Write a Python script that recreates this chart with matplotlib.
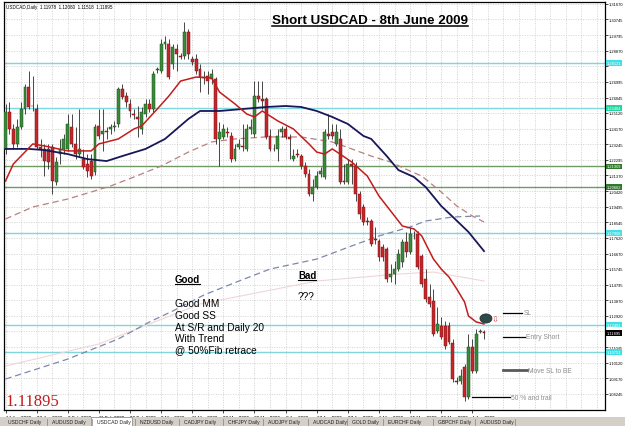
import matplotlib
matplotlib.use("Agg")
import matplotlib.pyplot as plt
from matplotlib.patches import Rectangle, Ellipse
from matplotlib.lines import Line2D
import matplotlib.transforms as mtransforms

plt.rcParams['font.family'] = ['Liberation Sans', 'DejaVu Sans']

# ---------------- data (USDCAD daily, 14 Jan 2009 - 8 Jun 2009) ----------------
opens = [1.2296, 1.2518, 1.2416, 1.2326, 1.2428, 1.2536, 1.2668, 1.2554, 1.2536, 1.2308,
         1.2296, 1.2296, 1.2308, 1.2097, 1.2265, 1.2296, 1.2296, 1.2428, 1.2326, 1.2265,
         1.2235, 1.2205, 1.2223, 1.2157, 1.2434, 1.2386, 1.2404, 1.2416, 1.2428, 1.2446,
         1.2656, 1.2614, 1.2566, 1.2506, 1.2488, 1.2416, 1.2506, 1.2566, 1.2536, 1.2770,
         1.2764, 1.2927, 1.2927, 1.2806, 1.2897, 1.2854, 1.2854, 1.2999, 1.2836, 1.2836,
         1.2776, 1.2728, 1.2734, 1.2716, 1.2716, 1.2356, 1.2368, 1.2398, 1.2374, 1.2235,
         1.2308, 1.2314, 1.2296, 1.2416, 1.2386, 1.2614, 1.2596, 1.2596, 1.2374, 1.2296,
         1.2296, 1.2398, 1.2416, 1.2368, 1.2235, 1.2265, 1.2253, 1.2193, 1.2145, 1.2025,
         1.2067, 1.2145, 1.2127, 1.2386, 1.2398, 1.2326, 1.2356, 1.2103, 1.2097, 1.2205,
         1.2193, 1.2025, 1.1947, 1.1863, 1.1863, 1.1755, 1.1743, 1.1707, 1.1695, 1.1526,
         1.1544, 1.1574, 1.1616, 1.1737, 1.1677, 1.1773, 1.1785, 1.1652, 1.1514, 1.1406,
         1.1382, 1.1202, 1.1232, 1.1232, 1.1232, 1.1130, 1.0901, 1.0901, 1.0985, 1.0805,
         1.1106, 1.0961, 1.1196, 1.11978]
highs = [1.2566, 1.2578, 1.2446, 1.2476, 1.2578, 1.2686, 1.2764, 1.2734, 1.2566, 1.2356,
         1.2326, 1.2326, 1.2326, 1.2247, 1.2356, 1.2386, 1.2506, 1.2506, 1.2428, 1.2536,
         1.2296, 1.2265, 1.2265, 1.2446, 1.2536, 1.2536, 1.2428, 1.2446, 1.2464, 1.2668,
         1.2686, 1.2638, 1.2596, 1.2536, 1.2554, 1.2548, 1.2596, 1.2596, 1.2764, 1.2788,
         1.2957, 1.2975, 1.2957, 1.2927, 1.2927, 1.2872, 1.3059, 1.3017, 1.2854, 1.2866,
         1.2806, 1.2764, 1.2764, 1.2776, 1.2728, 1.2458, 1.2446, 1.2428, 1.2398, 1.2326,
         1.2356, 1.2446, 1.2446, 1.2476, 1.2704, 1.2704, 1.2704, 1.2608, 1.2416, 1.2326,
         1.2416, 1.2434, 1.2434, 1.2386, 1.2296, 1.2296, 1.2265, 1.2217, 1.2175, 1.2115,
         1.2163, 1.2187, 1.2416, 1.2506, 1.2446, 1.2446, 1.2416, 1.2205, 1.2235, 1.2235,
         1.2217, 1.2043, 1.1965, 1.1887, 1.1875, 1.1827, 1.1755, 1.1725, 1.1707, 1.1604,
         1.1622, 1.1695, 1.1755, 1.1797, 1.1827, 1.1803, 1.1803, 1.1665, 1.1574, 1.1484,
         1.1454, 1.1346, 1.1286, 1.1262, 1.1256, 1.1154, 1.0925, 1.0973, 1.1003, 1.1184,
         1.1154, 1.1214, 1.1214, 1.12080]
lows = [1.2265, 1.2386, 1.2296, 1.2308, 1.2416, 1.2506, 1.2536, 1.2524, 1.2296, 1.2247,
        1.2133, 1.2175, 1.2025, 1.2079, 1.2205, 1.2265, 1.2284, 1.2308, 1.2235, 1.2247,
        1.2175, 1.2127, 1.2115, 1.2139, 1.2356, 1.2284, 1.2356, 1.2386, 1.2404, 1.2428,
        1.2596, 1.2548, 1.2488, 1.2476, 1.2368, 1.2386, 1.2488, 1.2518, 1.2518, 1.2752,
        1.2752, 1.2897, 1.2716, 1.2776, 1.2764, 1.2836, 1.2836, 1.2836, 1.2800, 1.2746,
        1.2638, 1.2686, 1.2626, 1.2686, 1.2326, 1.2193, 1.2356, 1.2368, 1.2217, 1.2223,
        1.2296, 1.2284, 1.2284, 1.2386, 1.2368, 1.2578, 1.2536, 1.2356, 1.2284, 1.2284,
        1.2223, 1.2368, 1.2356, 1.2235, 1.2223, 1.2247, 1.2175, 1.2127, 1.2013, 1.1983,
        1.2055, 1.2127, 1.2115, 1.2356, 1.2356, 1.2314, 1.2085, 1.2085, 1.2085, 1.2085,
        1.1983, 1.1875, 1.1839, 1.1839, 1.1713, 1.1725, 1.1622, 1.1622, 1.1496, 1.1496,
        1.1484, 1.1562, 1.1586, 1.1646, 1.1665, 1.1755, 1.1574, 1.1466, 1.1376, 1.1346,
        1.1172, 1.1190, 1.1154, 1.1094, 1.1124, 1.0895, 1.0883, 1.0883, 1.0781, 1.0793,
        1.0949, 1.0949, 1.1190, 1.11518]
closes = [1.2518, 1.2416, 1.2326, 1.2428, 1.2536, 1.2668, 1.2548, 1.2551, 1.2308, 1.2296,
          1.2223, 1.2217, 1.2103, 1.2217, 1.2296, 1.2356, 1.2446, 1.2326, 1.2265, 1.2296,
          1.2187, 1.2163, 1.2133, 1.2428, 1.2374, 1.2404, 1.2398, 1.2428, 1.2434, 1.2656,
          1.2608, 1.2578, 1.2524, 1.2500, 1.2476, 1.2518, 1.2566, 1.2536, 1.2746, 1.2776,
          1.2927, 1.2939, 1.2728, 1.2909, 1.2866, 1.2851, 1.2999, 1.2866, 1.2818, 1.2764,
          1.2728, 1.2725, 1.2704, 1.2746, 1.2356, 1.2398, 1.2416, 1.2392, 1.2235, 1.2296,
          1.2326, 1.2308, 1.2416, 1.2428, 1.2614, 1.2596, 1.2584, 1.2368, 1.2296, 1.2293,
          1.2374, 1.2416, 1.2368, 1.2356, 1.2253, 1.2262, 1.2193, 1.2145, 1.2025, 1.2067,
          1.2133, 1.2163, 1.2398, 1.2374, 1.2374, 1.2398, 1.2097, 1.2100, 1.2205, 1.2193,
          1.2025, 1.1905, 1.1857, 1.1857, 1.1725, 1.1749, 1.1646, 1.1646, 1.1514, 1.1544,
          1.1574, 1.1665, 1.1737, 1.1677, 1.1785, 1.1770, 1.1586, 1.1484, 1.1394, 1.1364,
          1.1184, 1.1244, 1.1166, 1.1112, 1.1136, 1.0913, 1.0898, 1.0931, 1.0805, 1.1106,
          1.0961, 1.1184, 1.1202, 1.11895]

# moving averages (bar index, value)
ma_red_idx = [0, 2, 7, 10, 16, 22, 24, 29, 33, 35, 39, 42, 45, 49, 53, 55, 59, 62, 64, 66, 70,
              74, 78, 80, 82, 84, 86, 89, 93, 96, 100, 102, 105, 107, 110, 112, 114, 116, 118,
              119, 121, 123]
ma_red = [1.2103, 1.2205, 1.2326, 1.2314, 1.2284, 1.2284, 1.2326, 1.2356, 1.2416, 1.2434,
          1.2536, 1.2614, 1.2704, 1.2728, 1.2722, 1.2638, 1.2566, 1.2506, 1.2488, 1.2524,
          1.2464, 1.2416, 1.2326, 1.2277, 1.2265, 1.2296, 1.2265, 1.2217, 1.2133, 1.2013,
          1.1893, 1.1833, 1.1815, 1.1773, 1.1634, 1.1574, 1.1526, 1.1454, 1.1376, 1.1292,
          1.1256, 1.1244]
ma_navy_idx = [0, 6, 10, 16, 21, 26, 30, 36, 41, 47, 50, 55, 61, 67, 72, 76, 80, 84, 88, 92,
               94, 98, 101, 105, 108, 112, 115, 119, 123]
ma_navy = [1.2296, 1.2296, 1.2289, 1.2265, 1.2235, 1.2223, 1.2253, 1.2296, 1.2356, 1.2476,
           1.2524, 1.2524, 1.2536, 1.2548, 1.2554, 1.2548, 1.2524, 1.2488, 1.2446, 1.2374,
           1.2356, 1.2253, 1.2169, 1.2127, 1.2067, 1.1953, 1.1887, 1.1797, 1.1682]
ma_brown_idx = [0, 7, 16, 22, 27, 33, 40, 47, 53, 59, 67, 76, 84, 89, 94, 99, 104, 107, 112,
                116, 120, 123]
ma_brown = [1.1875, 1.1947, 1.1995, 1.2037, 1.2073, 1.2127, 1.2193, 1.2277, 1.2338, 1.2356,
            1.2368, 1.2368, 1.2338, 1.2296, 1.2253, 1.2217, 1.2163, 1.2133, 1.2037, 1.1953,
            1.1893, 1.1857]
ma_blue_idx = [0, 16, 29, 37, 43, 51, 60, 68, 80, 89, 96, 104, 108, 115, 122]
ma_blue = [1.0913, 1.1033, 1.1154, 1.1256, 1.1322, 1.1418, 1.1502, 1.1574, 1.1634, 1.1713,
           1.1773, 1.1827, 1.1863, 1.1887, 1.1893]
ma_faint_idx = [0, 24, 50, 80, 101, 110, 123]
ma_faint = [1.0991, 1.1124, 1.1364, 1.1502, 1.1544, 1.1556, 1.1502]

# horizontal support / resistance lines
hline_prices = [1.28121, 1.25404, 1.21909, 1.20662, 1.17908, 1.12401, 1.10751]
hline_kinds = ['cyan', 'mint', 'green', 'green', 'cyan', 'cyan', 'cyan']
current_price = 1.11895

price_ticks = [1.31670, 1.30745, 1.29795, 1.28870, 1.27920, 1.26995, 1.26045, 1.25120,
               1.24170, 1.23245, 1.22295, 1.21370, 1.20420, 1.19495, 1.18545, 1.17620,
               1.16670, 1.15745, 1.14795, 1.13870, 1.12920, 1.11995, 1.11045, 1.10120,
               1.09170, 1.08245]
date_labels = ["14 Jan 2009", "23 Jan 2009", "2 Feb 2009", "11 Feb 2009", "20 Feb 2009",
               "2 Mar 2009", "11 Mar 2009", "20 Mar 2009", "30 Mar 2009", "8 Apr 2009",
               "17 Apr 2009", "27 Apr 2009", "6 May 2009", "15 May 2009", "26 May 2009",
               "4 Jun 2009"]
tab_names = ["USDCHF Daily", "AUDUSD Daily", "USDCAD Daily", "NZDUSD Daily", "CADJPY Daily",
             "CHFJPY Daily", "AUDJPY Daily", "AUDCAD Daily", "GOLD Daily", "EURCHF Daily",
             "GBPCHF Daily", "AUDUSD Daily"]

# ---------------- figure ----------------
W, H = 625, 427
fig = plt.figure(figsize=(W / 100, H / 100), dpi=100)
fig.patch.set_facecolor('white')


def fx(x):
    return x / W


def fy(y):
    return 1 - y / H


ax = fig.add_axes([fx(4), fy(411), (605 - 4) / W, (411 - 3) / H])
ax.set_facecolor('white')
ax.set_xlim(-0.39, 154.1)
ax.set_ylim(1.07269, 1.31790)

# grid
grid_kw = dict(color='#c4c4c4', lw=0.5, linestyle=(0, (1.5, 2)), zorder=0)
for k in range(0, 156, 4):
    ax.axvline(k, **grid_kw)
for p in price_ticks:
    ax.axhline(p, **grid_kw)

# horizontal lines
line_cols = {'cyan': '#7fd6dc', 'mint': '#7fd6dc', 'green': '#6f9a63'}
lab_cols = {'cyan': '#3fe0e6', 'mint': '#22d8a0', 'green': '#2f7a2a'}
for p, k in zip(hline_prices, hline_kinds):
    ax.axhline(p, color=line_cols[k], lw=1.0, zorder=1.5)

# moving averages
ax.plot(ma_faint_idx, ma_faint, color='#efd6d6', lw=0.8, zorder=2)
ax.plot(ma_blue_idx, ma_blue, color='#7c88ad', lw=0.9, linestyle=(0, (5, 3)), zorder=2)
ax.plot(ma_brown_idx, ma_brown, color='#b98080', lw=0.9, linestyle=(0, (5, 3)), zorder=2)

# candles
n = len(closes)
idx = list(range(n))
ax.vlines(idx, lows, highs, color='#2a2a2a', lw=0.6, zorder=3)
bottoms = [min(o, c) for o, c in zip(opens, closes)]
heights = [max(abs(c - o), 0.0003) for o, c in zip(opens, closes)]
fcols = ['#3a8a3a' if c >= o else '#c4262b' for o, c in zip(opens, closes)]
ecols = ['#1d4d1d' if c >= o else '#7a1212' for o, c in zip(opens, closes)]
ax.bar(idx, heights, bottom=bottoms, width=0.74, color=fcols, edgecolor=ecols,
       linewidth=0.35, zorder=4)

ax.plot(ma_navy_idx, ma_navy, color='#17175a', lw=1.3, zorder=5)
ax.plot(ma_red_idx, ma_red, color='#c21d1d', lw=1.1, zorder=5)

# axes styling
for s in ax.spines.values():
    s.set_color('black')
    s.set_linewidth(0.9)
ax.yaxis.tick_right()
ax.set_yticks(price_ticks)
highlighted = hline_prices + [current_price]
ytick_text = []
for p in price_ticks:
    hidden = any(abs(p - q) < 0.0021 for q in highlighted)
    ytick_text.append('' if hidden else f"{p:.5f}")
ax.set_yticklabels(ytick_text)
ax.tick_params(axis='y', labelsize=2.9, length=2, width=0.5, pad=1, colors='black')
ax.set_xticks(list(range(0, 8 * len(date_labels), 8)))
ax.set_xticklabels(date_labels, ha='left')
ax.tick_params(axis='x', labelsize=3.3, length=2, width=0.5, pad=1.5, colors='black')

# highlighted price labels
trans_lab = mtransforms.blended_transform_factory(ax.transAxes, ax.transData)
for p, k in zip(hline_prices, hline_kinds):
    ax.text(1.003, p, f"{p:.5f}", transform=trans_lab, ha='left', va='center', fontsize=2.9,
            color='white', clip_on=False, zorder=10,
            bbox=dict(boxstyle='square,pad=0.2', fc=lab_cols[k], ec='none'))
ax.text(1.003, current_price, f"{current_price:.5f}", transform=trans_lab, ha='left',
        va='center', fontsize=2.9, color='white', clip_on=False, zorder=11,
        bbox=dict(boxstyle='square,pad=0.2', fc='black', ec='none'))

# trade plan annotations (data coordinates)
ax.add_patch(Ellipse((123.5, 1.1277), 3.1, 0.0055, fc='#2f4848', ec='#1a2a2a', lw=0.5, zorder=8))
ax.text(125.8, 1.1275, "\u21e9", color='#d24a4a', fontsize=6, ha='center', va='center',
        family=['DejaVu Sans'], zorder=8)
ax.plot([127.9, 132.8], [1.1310, 1.1310], color='black', lw=0.9, zorder=8)
ax.text(133.1, 1.1310, "SL", color='#8c8c8c', fontsize=4.8, va='center', zorder=8)
ax.plot([127.9, 133.5], [1.1166, 1.1166], color='black', lw=0.9, zorder=8)
ax.text(133.8, 1.1166, "Entry Short", color='#8c8c8c', fontsize=4.8, va='center', zorder=8)
ax.plot([127.9, 134.1], [1.0967, 1.0967], color='#5a5a5a', lw=2.0, zorder=8)
ax.text(134.4, 1.0967, "Move SL to BE", color='#8c8c8c', fontsize=4.8, va='center', zorder=8)
ax.plot([119.9, 129.7], [1.0805, 1.0805], color='black', lw=0.9, zorder=8)
ax.text(130.0, 1.0805, "50 % and trail", color='#8c8c8c', fontsize=4.8, va='center', zorder=8)

# header and text annotations (figure positions)
fig.text(fx(6), fy(8.5), "USDCAD,Daily  1.11978  1.12080  1.11518  1.11895", fontsize=3.3,
         va='baseline', color='black')
title = fig.text(fx(272), fy(24), "Short USDCAD - 8th June 2009", fontsize=9.6,
                 fontweight='bold', va='baseline', color='black')
good = fig.text(fx(175), fy(283), "Good", fontsize=7, fontweight='bold', va='baseline')
bad = fig.text(fx(298), fy(279), "Bad", fontsize=7, fontweight='bold', va='baseline')
fig.text(fx(298), fy(300.5), "???", fontsize=7.3, va='baseline')
for txt, yb in [("Good MM", 307), ("Good SS", 319), ("At S/R and Daily 20", 331),
                ("With Trend", 342), ("@ 50%Fib retrace", 353)]:
    fig.text(fx(175), fy(yb), txt, fontsize=7.3, va='baseline')
fig.text(fx(5), fy(406.5), "1.11895", fontsize=12, va='baseline', color='#c41a1a',
         family=['Liberation Serif'])

# tab bar
fig.add_artist(Rectangle((0, fy(427)), 1, (427 - 418) / H, transform=fig.transFigure,
                         fc='#d4d0c8', ec='none', zorder=1))
tab_x = [8, 52, 97, 140, 184, 228, 268, 313, 352, 388, 438, 480]
fig.add_artist(Rectangle((fx(91), fy(427)), (132 - 91) / W, (427 - 417.5) / H,
                         transform=fig.transFigure, fc='white', ec='#808080', lw=0.5, zorder=2))
for t, x in zip(tab_names, tab_x):
    fig.text(fx(x), fy(423), t, fontsize=3.6, va='center', ha='left', color='#202020', zorder=3)
for x in tab_x[1:] + [520]:
    fig.add_artist(Line2D([fx(x - 5), fx(x - 5)], [fy(426), fy(420)], transform=fig.transFigure,
                          color='#808080', lw=0.5, zorder=3))

# underlines measured from the rendered text
fig.canvas.draw()
r = fig.canvas.get_renderer()
for t, yb, lw in [(title, 26.5, 1.1), (good, 285, 0.8), (bad, 281, 0.8)]:
    bb = t.get_window_extent(r)
    fig.add_artist(Line2D([bb.x0 / W, bb.x1 / W], [fy(yb), fy(yb)], transform=fig.transFigure,
                          color='black', lw=lw))

fig.savefig('out.png', dpi=100, facecolor='white')
